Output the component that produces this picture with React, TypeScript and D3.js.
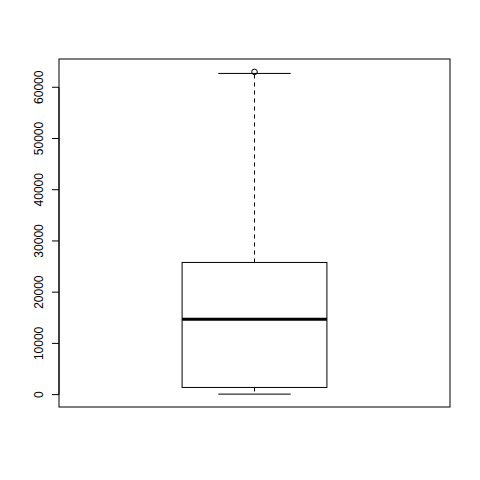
import * as d3 from "d3";

// five-number summary: lower whisker, Q1, median, Q3, upper whisker
const boxStats = [100, 1400, 14700, 25800, 62700];
const outliers = [63000];
const yTicks = [0, 10000, 20000, 30000, 40000, 50000, 60000];

const width = 480;
const height = 480;
const marginTop = 59;
const marginRight = 30;
const marginBottom = 73;
const marginLeft = 59;

export default function App() {
  const lo = d3.min([...boxStats, ...outliers])!;
  const hi = d3.max([...boxStats, ...outliers])!;
  const pad = (hi - lo) * 0.04;

  const y = d3.scaleLinear()
    .domain([lo - pad, hi + pad])
    .range([height - marginBottom, marginTop]);

  // R style: xlim 0.5..1.5 extended by 4%
  const x = d3.scaleLinear()
    .domain([0.46, 1.54])
    .range([marginLeft, width - marginRight]);

  const [wLo, q1, med, q3, wHi] = boxStats;
  const cx = x(1);
  const bx0 = x(0.8), bx1 = x(1.2);
  const cx0 = x(0.9), cx1 = x(1.1);
  const axisX = marginLeft;

  return (
    <svg width={width} height={height} style={{ display: "block", position: "absolute", left: 0, top: 0, background: "#fff" }}
      fontFamily="'Liberation Sans', Arial, sans-serif">
      <rect x={0} y={0} width={width} height={height} fill="#fff" />
      {/* whiskers */}
      <line x1={cx} x2={cx} y1={y(q3)} y2={y(wHi)} stroke="#000" strokeDasharray="4 4" />
      <line x1={cx} x2={cx} y1={y(q1)} y2={y(wLo)} stroke="#000" strokeDasharray="4 4" />
      <line x1={cx0} x2={cx1} y1={y(wHi)} y2={y(wHi)} stroke="#000" />
      <line x1={cx0} x2={cx1} y1={y(wLo)} y2={y(wLo)} stroke="#000" />
      {/* box */}
      <rect x={bx0} y={y(q3)} width={bx1 - bx0} height={y(q1) - y(q3)} fill="none" stroke="#000" />
      <line x1={bx0} x2={bx1} y1={y(med)} y2={y(med)} stroke="#000" strokeWidth={3} />
      {outliers.map((o, i) => (
        <circle key={i} cx={cx} cy={y(o)} r={2.8} fill="none" stroke="#000" />
      ))}
      {/* frame */}
      <rect x={marginLeft} y={marginTop} width={width - marginLeft - marginRight}
        height={height - marginTop - marginBottom} fill="none" stroke="#000" />
      {/* y axis */}
      <line x1={axisX} x2={axisX} y1={y(yTicks[0])} y2={y(yTicks[yTicks.length - 1])} stroke="#000" />
      {yTicks.map((t) => (
        <g key={t}>
          <line x1={axisX - 7} x2={axisX} y1={y(t)} y2={y(t)} stroke="#000" />
          <text transform={`translate(${axisX - 16},${y(t)}) rotate(-90)`} textAnchor="middle"
            fontSize={12} fill="#000">{t}</text>
        </g>
      ))}
    </svg>
  );
}
